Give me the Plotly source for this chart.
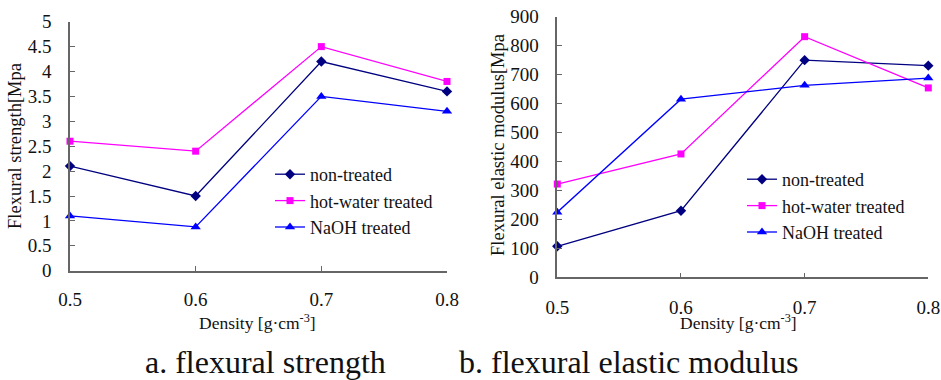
import plotly.graph_objects as go

density = [0.5, 0.6, 0.7, 0.8]
x_ticks = ["0.5", "0.6", "0.7", "0.8"]

strength_non = [2.1, 1.5, 4.2, 3.6]
strength_hot = [2.6, 2.4, 4.5, 3.8]
strength_naoh = [1.1, 0.88, 3.5, 3.2]

modulus_non = [107, 230, 750, 731]
modulus_hot = [322, 426, 831, 654]
modulus_naoh = [225, 615, 663, 688]

names = ["non-treated", "hot-water treated", "NaOH treated"]
colors = ["#000080", "#FF00FF", "#0000FF"]
symbols = ["diamond", "square", "triangle-up"]
msizes = [8, 7, 9]

FONT = "Liberation Serif, Times New Roman, serif"

fig = go.Figure()

for i, ys in enumerate([strength_non, strength_hot, strength_naoh]):
    fig.add_trace(go.Scatter(
        x=density, y=ys, name=names[i], mode="lines+markers",
        line=dict(color=colors[i], width=1.3),
        marker=dict(symbol=symbols[i], size=msizes[i], color=colors[i]),
        xaxis="x", yaxis="y", legend="legend", cliponaxis=False))

for i, ys in enumerate([modulus_non, modulus_hot, modulus_naoh]):
    fig.add_trace(go.Scatter(
        x=density, y=ys, name=names[i], mode="lines+markers",
        line=dict(color=colors[i], width=1.3),
        marker=dict(symbol=symbols[i], size=msizes[i], color=colors[i]),
        xaxis="x2", yaxis="y2", legend="legend2", cliponaxis=False))

W, H = 941, 380

def dom(a, b, total):
    return [a / total, b / total]

axis_common = dict(
    showline=True, linecolor="#666666", linewidth=1.5,
    ticks="inside", ticklen=5, tickcolor="#666666", tickwidth=1,
    showgrid=False, zeroline=False, automargin=False,
    tickfont=dict(family=FONT, size=19, color="#111111"),
)

fig.update_layout(
    template="none",
    width=W, height=H,
    margin=dict(l=0, r=0, t=0, b=0, pad=0),
    paper_bgcolor="white", plot_bgcolor="white",
    font=dict(family=FONT, color="#111111"),
    xaxis=dict(domain=dom(70, 447, W), range=[0.5, 0.8], anchor="y",
               tickvals=density, ticktext=x_ticks, ticklabelstandoff=11, **axis_common),
    yaxis=dict(domain=[1 - 270.7 / H, 1 - 21.7 / H], range=[0, 5], anchor="x",
               dtick=0.5, ticklabelstandoff=13, **axis_common),
    xaxis2=dict(domain=dom(557.3, 928.3, W), range=[0.5, 0.8], anchor="y2",
                tickvals=density, ticktext=x_ticks, ticklabelstandoff=12, **axis_common),
    yaxis2=dict(domain=[1 - 277.3 / H, 1 - 16.7 / H], range=[0, 900], anchor="x2",
                dtick=100, ticklabelstandoff=13, **axis_common),
    legend=dict(x=270 / W, y=1 - 156 / H, xanchor="left", yanchor="top",
                font=dict(family=FONT, size=18, color="#111111"),
                bgcolor="rgba(0,0,0,0)", tracegroupgap=0),
    legend2=dict(x=742 / W, y=1 - 161 / H, xanchor="left", yanchor="top",
                 font=dict(family=FONT, size=18, color="#111111"),
                 bgcolor="rgba(0,0,0,0)", tracegroupgap=0),
)

annos = [
    dict(text="Flexural strength[Mpa", x=15 / W, y=1 - 146 / H, textangle=-90, size=18.5),
    dict(text="Flexural elastic modulus[Mpa", x=498 / W, y=1 - 145 / H, textangle=-90, size=18.5),
    dict(text="Density [g·cm<sup>-3</sup>]", x=257 / W, y=1 - 322 / H, textangle=0, size=17.5),
    dict(text="Density [g·cm<sup>-3</sup>]", x=738 / W, y=1 - 322 / H, textangle=0, size=17.5),
    dict(text="a. flexural strength", x=265 / W, y=1 - 362 / H, textangle=0, size=32),
    dict(text="b. flexural elastic modulus", x=628 / W, y=1 - 362 / H, textangle=0, size=32),
]
for a in annos:
    fig.add_annotation(text=a["text"], x=a["x"], y=a["y"], xref="paper", yref="paper",
                       xanchor="center", yanchor="middle", showarrow=False,
                       textangle=a["textangle"],
                       font=dict(family=FONT, size=a["size"], color="#111111"))

fig.write_html("out.html",
               config={"displayModeBar": False},
               post_script="document.body.style.margin='0';document.body.style.padding='0';")
